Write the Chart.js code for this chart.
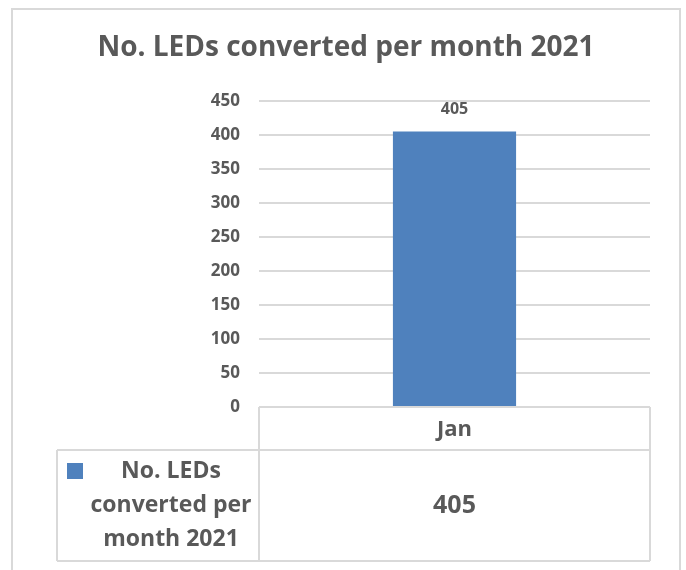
<!DOCTYPE html>
<html>
<head>
<meta charset="utf-8">
<script src="https://cdn.jsdelivr.net/npm/chart.js@4/dist/chart.umd.min.js"></script>
<style>
  body { margin: 0; background: #fff; }
  canvas { display: block; }
</style>
</head>
<body>
<canvas id="ledChart" width="686" height="570"></canvas>
<script>
// data
const categories = ['Jan'];
const ledValues = [405];
const seriesName = 'No. LEDs converted per month 2021';
const legendLines = ['No. LEDs', 'converted per', 'month 2021'];
const yMax = 450;
const yStep = 50;

const textGray = '#595959';
const lineGray = '#d9d9d9';
const barBlue = '#4f81bd';
const fontFam = '"Open Sans", sans-serif';

// title, data label, data table and frame
const excelBits = {
    id: 'excelBits',
    beforeDraw(chart) {
        const ctx = chart.ctx;
        ctx.save();
        ctx.strokeStyle = lineGray;
        ctx.lineWidth = 2;
        ctx.beginPath();
        ctx.moveTo(12, 570); ctx.lineTo(12, 9); ctx.lineTo(680, 9); ctx.lineTo(680, 570);
        ctx.stroke();
        ctx.restore();
    },
    afterDraw(chart) {
        const ctx = chart.ctx;
        const area = chart.chartArea;
        const xs = chart.scales.x;
        const meta = chart.getDatasetMeta(0);

        ctx.save();
        ctx.fillStyle = textGray;
        ctx.textAlign = 'center';
        ctx.textBaseline = 'middle';

        // title
        ctx.font = 'bold 28px ' + fontFam;
        ctx.fillText(seriesName, 346, 48);

        // labels above bars
        ctx.font = 'bold 16px ' + fontFam;
        meta.data.forEach((bar, i) => {
            ctx.fillText(ledValues[i], bar.x, bar.y - 22);
        });

        // data table
        const rowTop = area.bottom;
        const rowMid = rowTop + 43;
        const rowBot = rowMid + 111;
        const legLeft = 57;

        ctx.strokeStyle = lineGray;
        ctx.lineWidth = 2;
        ctx.beginPath();
        ctx.moveTo(area.left, rowTop); ctx.lineTo(area.right, rowTop);
        ctx.moveTo(legLeft, rowMid); ctx.lineTo(area.right, rowMid);
        ctx.moveTo(legLeft, rowBot); ctx.lineTo(area.right, rowBot);
        ctx.moveTo(legLeft, rowMid); ctx.lineTo(legLeft, rowBot);
        const catW = (area.right - area.left) / categories.length;
        for (let i = 0; i <= categories.length; i++) {
            const x = area.left + i * catW;
            ctx.moveTo(x, rowTop); ctx.lineTo(x, rowBot);
        }
        ctx.stroke();

        categories.forEach((c, i) => {
            const cx = xs.getPixelForValue(i);
            ctx.font = 'bold 22px ' + fontFam;
            ctx.fillText(c, cx, (rowTop + rowMid) / 2 + 1);
            ctx.font = 'bold 25px ' + fontFam;
            ctx.fillText(ledValues[i], cx, (rowMid + rowBot) / 2);
        });

        // legend key + series name
        ctx.fillStyle = barBlue;
        ctx.fillRect(67, 463, 16, 16);
        ctx.fillStyle = textGray;
        ctx.font = 'bold 23px ' + fontFam;
        legendLines.forEach((t, i) => {
            ctx.fillText(t, 171, 471 + i * 34);
        });
        ctx.restore();
    }
};

const ctx = document.getElementById('ledChart').getContext('2d');
new Chart(ctx, {
    type: 'bar',
    data: {
        labels: categories,
        datasets: [{
            label: seriesName,
            data: ledValues,
            backgroundColor: barBlue,
            barPercentage: 0.315,
            categoryPercentage: 1
        }]
    },
    options: {
        responsive: false,
        animation: false,
        layout: { padding: { top: 101, right: 36, bottom: 163, left: 0 } },
        plugins: {
            legend: { display: false },
            tooltip: { enabled: false },
            title: { display: false }
        },
        scales: {
            x: {
                ticks: { display: false },
                grid: { display: false },
                border: { display: false },
                afterFit: (s) => { s.height = 0; }
            },
            y: {
                min: 0,
                max: yMax,
                ticks: {
                    stepSize: yStep,
                    padding: 19,
                    color: textGray,
                    font: { family: fontFam, size: 17, weight: 'bold' }
                },
                grid: { color: lineGray, lineWidth: 2, drawTicks: false },
                border: { display: false },
                afterFit: (s) => { s.width = 259; }
            }
        }
    },
    plugins: [excelBits]
});
</script>
</body>
</html>
